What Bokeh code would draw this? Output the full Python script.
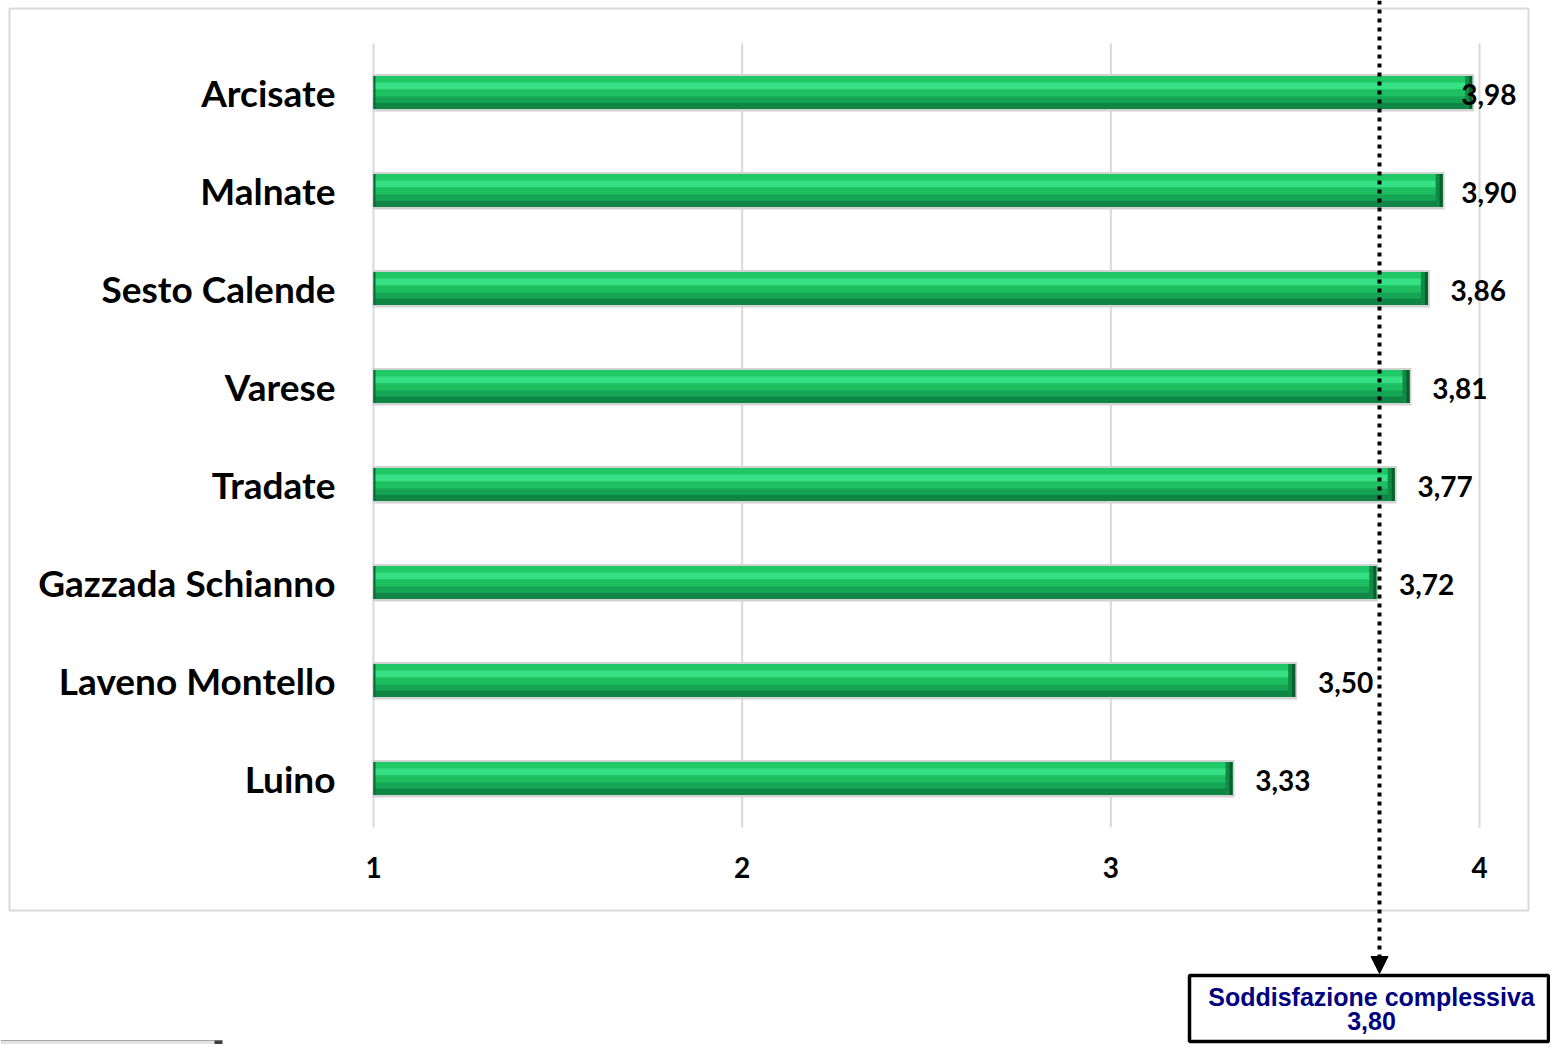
import numpy as np
from bokeh.plotting import figure
from bokeh.models import Range1d, LinearAxis, FixedTicker, Arrow, NormalHead
from bokeh.core.properties import value
from bokeh.embed import file_html
from bokeh.resources import INLINE

# ---------------- data ----------------
categories = ["Arcisate", "Malnate", "Sesto Calende", "Varese", "Tradate",
              "Gazzada Schianno", "Laveno Montello", "Luino"]
scores = [3.98, 3.90, 3.86, 3.81, 3.77, 3.72, 3.50, 3.33]
x_ticks = [1, 2, 3, 4]
overall_label = "Soddisfazione complessiva"
overall_score = 3.80

# ---------------- layout (pixels) ----------------
W, H = 1550, 1044
X1_PX = 373.0          # x pixel of value 1
UNIT_PX = 368.67       # pixels per unit on x
ROW_PX = 98.0          # pixels per category row
BOTTOM_ROW_PX = 778.0  # y pixel of the lowest category


def xd(px):
    return 1 + (px - X1_PX) / UNIT_PX


def yd(py):
    return 1 + (BOTTOM_ROW_PX - py) / ROW_PX


def dx(px):
    return px / UNIT_PX


def dy(px):
    return px / ROW_PX


n = len(categories)
ypos = np.arange(n, 0, -1).astype(float)
vals = np.array(scores)
left = np.full(n, float(x_ticks[0]))

p = figure(width=W, height=H, output_backend="svg", toolbar_location=None,
           x_range=Range1d(xd(0), xd(W)),
           y_range=Range1d(yd(H), yd(0)),
           x_axis_location=None, y_axis_location=None, min_border=0,
           outline_line_color=None, background_fill_color="white",
           border_fill_color="white")
p.grid.visible = False

# outer chart border
p.quad(left=[xd(9)], right=[xd(1528)], top=[yd(8)], bottom=[yd(910)],
       fill_color=None, line_color="#d9d9d9", line_width=2)

# vertical gridlines
p.segment(x0=x_ticks, x1=x_ticks, y0=[0.5] * len(x_ticks), y1=[n + 0.5] * len(x_ticks),
          line_color="#d9d9d9", line_width=2)


def band(top_px, bot_px, color, l=None, r=None):
    yc = ypos - dy((top_px + bot_px) / 2.0)
    h = dy(bot_px - top_px)
    p.hbar(y=yc, height=h, left=left if l is None else l, right=vals if r is None else r,
           fill_color=color, line_color=None)


# bars (bevelled look)
band(-18.5, 19, "#d3d3d3", l=left - dx(1), r=vals + dx(2))
band(-16.5, 16.5, "#1cbd5e")
band(-16.5, -10, "#1fc865")
band(-10, -3, "#36e186")
band(-3, 4, "#1dbf60")
band(4, 10, "#16a554")
band(10, 16.5, "#0f8646")
band(-16.5, 16.5, "#0b6b34", r=left + dx(2))
band(-16.5, 16.5, "#118a45", l=vals - dx(7))
band(-16.5, 16.5, "#0a5f2d", l=vals - dx(3))

# data labels
lab_w = dx(57)
x_right = np.minimum(vals + dx(21) + lab_w, xd(1516))
p.text(x=x_right, y=ypos, text=[f"{v:.2f}".replace(".", ",") for v in scores],
       text_align="right", text_baseline="middle", y_offset=2,
       text_font=value("Lato"), text_font_style="bold", text_font_size="28px",
       text_color="black")

# axes
yax = LinearAxis(fixed_location=float(x_ticks[0]),
                 ticker=FixedTicker(ticks=[int(v) for v in ypos]),
                 major_label_overrides={int(y): c for y, c in zip(ypos, categories)})
yax.axis_line_color = None
yax.major_tick_line_color = None
yax.minor_tick_line_color = None
yax.major_tick_in = 0
yax.major_tick_out = 0
yax.major_label_standoff = 38
yax.major_label_text_font = "Lato"
yax.major_label_text_font_style = "bold"
yax.major_label_text_font_size = "37px"
yax.major_label_text_color = "black"
p.add_layout(yax, "left")

xax = LinearAxis(fixed_location=0.5, ticker=FixedTicker(ticks=x_ticks))
xax.axis_line_color = None
xax.major_tick_line_color = None
xax.minor_tick_line_color = None
xax.major_tick_in = 0
xax.major_tick_out = 0
xax.major_label_standoff = 29
xax.major_label_text_font = "Lato"
xax.major_label_text_font_style = "bold"
xax.major_label_text_font_size = "28px"
xax.major_label_text_color = "black"
p.add_layout(xax, "below")

# overall satisfaction box
p.quad(left=[xd(1189)], right=[xd(1548)], top=[yd(975)], bottom=[yd(1041)],
       fill_color="white", line_color="black", line_width=3.5)
p.text(x=[xd(1371), xd(1371)], y=[yd(996), yd(1020)],
       text=[overall_label, f"{overall_score:.2f}".replace(".", ",")],
       text_align="center", text_baseline="middle",
       text_font=value("Liberation Sans"), text_font_style="bold",
       text_font_size="25px", text_color="#000080")

# dotted arrow pointing to the box
p.add_layout(Arrow(end=NormalHead(size=17, fill_color="black", line_color="black", line_width=1),
                   x_start=xd(1379), y_start=yd(0), x_end=xd(1379), y_end=yd(973),
                   line_color="black", line_width=4, line_dash="4 5"))

# fragment of a shape at bottom-left
p.quad(left=[xd(0)], right=[xd(222)], top=[yd(1040)], bottom=[yd(1045)],
       fill_color="#e2e2e2", line_color=None)
p.segment(x0=[xd(0)], x1=[xd(222)], y0=[yd(1040)], y1=[yd(1040)],
          line_color="#a8a8a8", line_width=1)
p.quad(left=[xd(214)], right=[xd(222)], top=[yd(1040)], bottom=[yd(1045)],
       fill_color="#404040", line_color=None)

open("out.html", "w").write(file_html(p, INLINE))
